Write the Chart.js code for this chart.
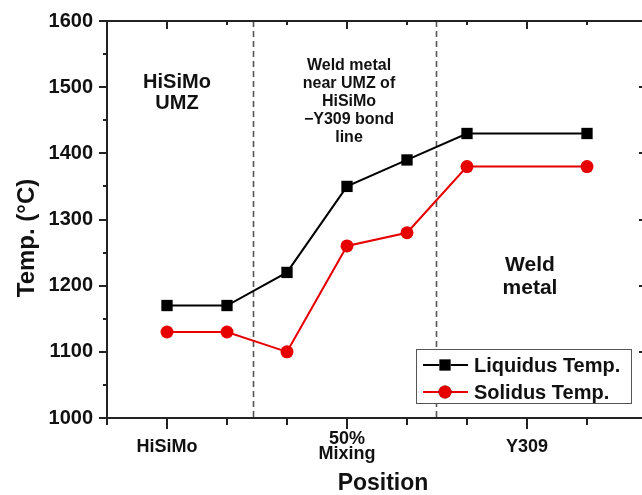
<!DOCTYPE html>
<html>
<head>
<meta charset="utf-8">
<script src="https://cdn.jsdelivr.net/npm/chart.js@4/dist/chart.umd.min.js"></script>
<style>
  html, body { margin: 0; padding: 0; background: #fff; overflow: hidden; }
  #wrap { width: 660px; height: 495px; }
</style>
</head>
<body>
<div id="wrap"><canvas id="chart" width="660" height="495"></canvas></div>
<script>
// positions along the weld (x), temperatures in degC
const positions = [1, 2, 3, 4, 5, 6, 8];
const liquidus = [1170, 1170, 1220, 1350, 1390, 1430, 1430];
const solidus = [1130, 1130, 1100, 1260, 1280, 1380, 1380];
const seriesNames = ['Liquidus Temp.', 'Solidus Temp.'];

// x tick labels at the major ticks
const xTickValues = [1, 4, 7];
const xTickLabels = ['HiSiMo', ['50%', 'Mixing'], 'Y309'];
const yTicks = [1000, 1100, 1200, 1300, 1400, 1500, 1600];

// zone boundaries (dashed lines)
const dividers = [2.43, 5.48];

const FONT = '"Liberation Sans", Arial, sans-serif';

function toPoints(ys) {
  return positions.map((x, i) => ({ x: x, y: ys[i] }));
}

// frame, ticks, dashed lines, texts and legend
const decor = {
  id: 'decor',
  beforeDatasetsDraw(chart) {
    const ctx = chart.ctx;
    const a = chart.chartArea;
    const xs = chart.scales.x;
    ctx.save();
    ctx.strokeStyle = '#555';
    ctx.lineWidth = 1.6;
    ctx.setLineDash([6, 4]);
    dividers.forEach(v => {
      const px = Math.round(xs.getPixelForValue(v)) + 0.5;
      ctx.beginPath();
      ctx.moveTo(px, a.top);
      ctx.lineTo(px, a.bottom);
      ctx.stroke();
    });
    ctx.restore();
  },
  afterDraw(chart) {
    const ctx = chart.ctx;
    const a = chart.chartArea;
    const xs = chart.scales.x;
    const ys = chart.scales.y;
    ctx.save();
    ctx.strokeStyle = '#222';
    ctx.lineWidth = 2;
    ctx.strokeRect(a.left, a.top, a.right - a.left, a.bottom - a.top);

    // x ticks, bottom outward, top inward
    for (let v = 0; v <= 9; v++) {
      const px = Math.round(xs.getPixelForValue(v));
      const major = xTickValues.includes(v);
      ctx.beginPath();
      ctx.moveTo(px, a.bottom);
      ctx.lineTo(px, a.bottom + (major ? 11 : 7));
      ctx.moveTo(px, a.top);
      ctx.lineTo(px, a.top + (major ? 8 : 4));
      ctx.stroke();
    }
    // y ticks, left outward, right inward
    for (let v = 1000; v <= 1600; v += 50) {
      const py = Math.round(ys.getPixelForValue(v));
      const major = v % 100 === 0;
      ctx.beginPath();
      ctx.moveTo(a.left, py);
      ctx.lineTo(a.left - (major ? 8 : 4), py);
      ctx.moveTo(a.right, py);
      ctx.lineTo(a.right - (major ? 8 : 4), py);
      ctx.stroke();
    }

    // zone captions
    ctx.fillStyle = '#111';
    ctx.textAlign = 'center';
    ctx.textBaseline = 'middle';
    ctx.font = 'bold 20px ' + FONT;
    ctx.fillText('HiSiMo', 177, 82);
    ctx.fillText('UMZ', 177, 103);
    ctx.font = 'bold 16px ' + FONT;
    ['Weld metal', 'near UMZ of', 'HiSiMo', '\u2212Y309 bond', 'line'].forEach((t, i) => {
      ctx.fillText(t, 349, 66 + i * 17.8);
    });
    ctx.font = 'bold 21px ' + FONT;
    ctx.fillText('Weld', 530, 265);
    ctx.fillText('metal', 530, 288);

    // axis titles
    ctx.font = 'bold 23px ' + FONT;
    ctx.fillText('Position', 383, 484);
    ctx.save();
    ctx.translate(27, 238);
    ctx.rotate(-Math.PI / 2);
    ctx.font = 'bold 24px ' + FONT;
    ctx.fillText('Temp. (\u00b0C)', 0, 0);
    ctx.restore();

    // legend
    const lx = 416, ly = 349, lw = 215, lh = 54;
    ctx.fillStyle = '#fff';
    ctx.fillRect(lx, ly, lw, lh);
    ctx.strokeStyle = '#555';
    ctx.lineWidth = 1;
    ctx.strokeRect(lx + 0.5, ly + 0.5, lw, lh);
    chart.data.datasets.forEach((ds, i) => {
      const cy = ly + 16 + i * 27;
      ctx.strokeStyle = ds.borderColor;
      ctx.lineWidth = 2;
      ctx.beginPath();
      ctx.moveTo(lx + 7, cy);
      ctx.lineTo(lx + 52, cy);
      ctx.stroke();
      Chart.helpers.drawPoint(ctx, {
        pointStyle: ds.pointStyle,
        radius: ds.pointRadius,
        borderWidth: 0
      }, lx + 29, cy);
      ctx.fillStyle = ds.pointBackgroundColor;
      ctx.fill();
      ctx.fillStyle = '#111';
      ctx.textAlign = 'left';
      ctx.font = 'bold 20px ' + FONT;
      ctx.fillText(ds.label, lx + 58, cy + 1);
    });
    ctx.restore();
  }
};

new Chart(document.getElementById('chart'), {
  type: 'line',
  data: {
    datasets: [
      {
        label: seriesNames[0],
        data: toPoints(liquidus),
        borderColor: '#000',
        backgroundColor: '#000',
        pointBackgroundColor: '#000',
        pointBorderWidth: 0,
        pointStyle: 'rect',
        pointRadius: 8,
        borderWidth: 2,
        tension: 0
      },
      {
        label: seriesNames[1],
        data: toPoints(solidus),
        borderColor: '#e60000',
        backgroundColor: '#e60000',
        pointBackgroundColor: '#e60000',
        pointBorderWidth: 0,
        pointStyle: 'circle',
        pointRadius: 6.5,
        borderWidth: 2,
        tension: 0
      }
    ]
  },
  options: {
    responsive: false,
    animation: false,
    layout: { padding: { top: 21, right: 13, left: 0, bottom: 0 } },
    plugins: {
      legend: { display: false },
      tooltip: { enabled: false }
    },
    scales: {
      x: {
        type: 'linear',
        min: 0,
        max: 9,
        grid: { display: false, drawTicks: false },
        border: { display: false },
        afterFit(scale) {
          scale.height = 77;
          scale.paddingLeft = 0;
          scale.paddingRight = 0;
        },
        afterBuildTicks(scale) {
          scale.ticks = xTickValues.map(v => ({ value: v }));
        },
        ticks: {
          autoSkip: false,
          maxRotation: 0,
          padding: 21,
          crossAlign: 'center',
          color: '#111',
          font: { family: FONT, size: 18, weight: 'bold', lineHeight: 0.85 },
          callback: function(value) {
            const i = xTickValues.indexOf(value);
            return i >= 0 ? xTickLabels[i] : '';
          }
        }
      },
      y: {
        min: 1000,
        max: 1600,
        grid: { display: false, drawTicks: false },
        border: { display: false },
        afterFit(scale) {
          scale.width = 107;
          scale.paddingTop = 0;
          scale.paddingBottom = 0;
        },
        afterBuildTicks(scale) {
          scale.ticks = yTicks.map(v => ({ value: v }));
        },
        ticks: {
          padding: 14,
          color: '#111',
          font: { family: FONT, size: 20, weight: 'bold' },
          callback: value => String(value)
        }
      }
    }
  },
  plugins: [decor]
});
</script>
</body>
</html>
